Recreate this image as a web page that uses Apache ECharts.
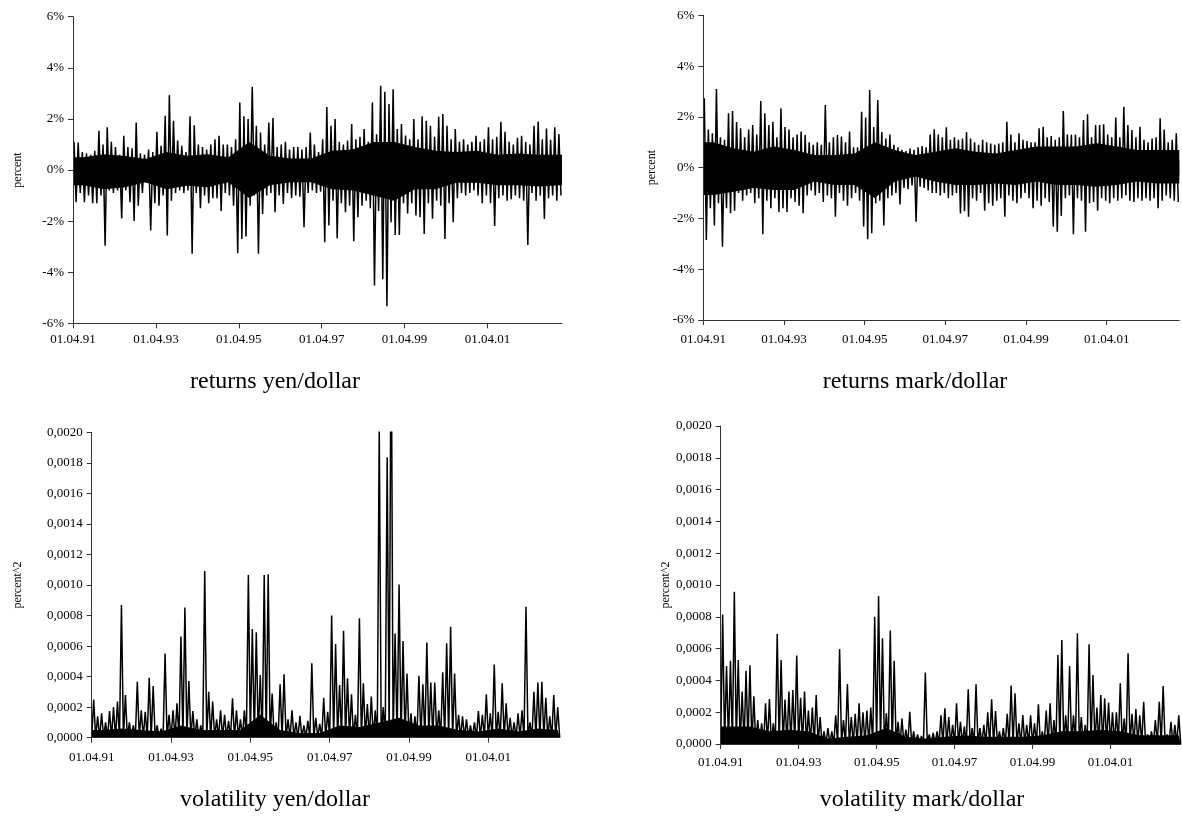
<!DOCTYPE html>
<html>
<head>
<meta charset="utf-8">
<script src="https://cdn.jsdelivr.net/npm/echarts@6/dist/echarts.min.js"></script>
<style>
html,body{margin:0;padding:0;background:#fff;}
#chart{width:1182px;height:825px;}
</style>
</head>
<body>
<div id="chart"></div>
<script>
// time axis: years since 01.04.1991, one bin = 0.1 year, core bins = 0.5 year
const BIN_YEARS = 0.1;
const CORE_YEARS = 0.5;
const SPAN_YEARS = 11.8;
const xTickYears = [0, 2, 4, 6, 8, 10];
const xTickLabels = ['01.04.91', '01.04.93', '01.04.95', '01.04.97', '01.04.99', '01.04.01'];
const titles = ['returns yen/dollar', 'returns mark/dollar', 'volatility yen/dollar', 'volatility mark/dollar'];

// daily returns (percent): highest and lowest value seen in each 0.1-year bin
const yenRetHi = [1.1,1.08,0.7,0.65,0.6,0.75,1.54,1.0,1.67,1.1,0.9,0.6,1.34,0.9,0.85,1.86,0.65,0.6,0.8,0.7,1.5,0.95,2.12,2.93,1.93,1.15,0.95,0.7,2.1,1.75,1.0,0.9,0.8,
 1.0,1.2,1.34,1.0,1.0,0.9,1.2,2.64,2.1,2.0,3.26,1.73,1.47,1.0,1.86,2.03,0.9,1.0,1.1,0.8,0.9,0.9,0.8,0.9,1.47,1.0,0.7,1.2,2.47,1.73,2.0,1.1,1.0,1.15,
 1.8,1.2,1.3,1.6,1.1,2.64,1.4,3.3,3.06,2.58,3.16,1.6,1.8,1.35,1.2,2.0,1.2,2.1,1.93,1.73,1.3,2.08,2.19,1.73,1.2,1.6,1.1,1.2,1.0,1.1,1.34,1.1,1.2,1.67,
 1.2,1.3,1.89,1.5,1.1,1.0,1.26,1.34,1.1,1.0,1.73,1.9,1.2,1.62,1.18,1.67,1.41];
const yenRetLo = [-1.26,-0.9,-1.26,-1.0,-1.3,-1.3,-1.0,-2.96,-0.8,-0.9,-0.8,-1.9,-0.8,-1.26,-2.0,-1.4,-0.9,-0.5,-2.37,-1.3,-1.4,-1.0,-2.56,-1.2,-0.9,-0.8,-0.9,-0.8,-3.28,-0.9,-1.5,-1.0,-1.3,
 -1.1,-1.1,-1.6,-0.9,-1.0,-1.4,-3.26,-2.7,-2.6,-1.4,-1.0,-3.28,-1.72,-1.0,-0.9,-1.65,-1.0,-1.33,-0.9,-1.1,-1.0,-1.05,-2.24,-0.9,-0.8,-0.9,-0.85,-2.83,-2.17,-1.2,-2.67,-1.3,-1.65,-1.4,
 -2.79,-1.85,-1.4,-1.2,-1.5,-4.52,-1.6,-4.28,-5.33,-2.04,-2.54,-2.54,-1.3,-1.7,-1.3,-1.78,-1.85,-2.5,-1.3,-1.91,-1.2,-1.4,-2.7,-1.3,-2.04,-1.1,-0.9,-1.0,-0.9,-0.8,-1.0,-1.3,-1.0,-1.3,
 -2.19,-1.1,-1.0,-1.2,-1.14,-1.0,-1.1,-1.2,-2.93,-0.9,-1.2,-1.0,-1.92,-1.1,-1.0,-1.2,-1.0];
const markRetHi = [2.73,1.5,1.35,3.1,1.2,1.1,2.14,2.23,1.8,1.55,1.2,1.5,1.68,1.3,2.62,2.14,1.68,1.81,1.2,2.34,1.6,1.5,1.2,1.3,1.42,1.29,1.0,0.9,1.0,0.9,2.47,1.0,1.2,1.29,1.23,1.0,1.42,0.8,0.8,
 2.2,1.97,3.06,1.6,2.66,1.4,1.15,1.3,0.9,0.8,0.7,0.65,0.75,0.7,0.8,0.85,0.8,1.3,1.51,1.3,1.2,1.59,1.1,1.2,1.1,1.15,1.4,1.15,1.0,0.9,1.1,1.0,0.95,0.9,0.95,1.0,1.81,1.3,1.0,1.35,
 1.1,1.05,1.0,1.0,1.55,1.61,1.2,1.25,1.1,1.2,2.23,1.3,1.3,1.3,1.2,1.88,2.1,1.2,1.68,1.68,1.71,1.3,1.2,1.97,1.2,2.4,1.68,1.48,1.2,1.61,1.1,1.0,1.15,1.2,1.94,1.5,1.0,1.1,1.35];
const markRetLo = [-2.85,-1.6,-2.28,-1.4,-3.11,-1.6,-1.8,-1.7,-1.0,-1.3,-1.1,-1.0,-1.4,-1.2,-2.62,-1.3,-1.6,-1.2,-1.75,-1.6,-1.75,-1.2,-1.35,-1.5,-1.8,-1.1,-0.9,-1.1,-1.0,-1.35,-1.1,-1.2,-1.93,-1.0,-1.3,-1.5,-1.2,-1.0,-1.3,
 -2.32,-2.82,-2.58,-1.4,-1.3,-2.28,-1.2,-1.1,-1.0,-1.45,-0.8,-0.85,-0.7,-2.13,-0.75,-0.8,-0.9,-1.0,-1.0,-1.1,-1.0,-1.2,-1.1,-1.0,-1.8,-1.72,-1.93,-1.2,-1.3,-1.0,-1.7,-1.4,-1.5,-1.3,-1.2,-1.93,-1.1,-1.3,-1.4,-1.2,
 -1.0,-1.2,-1.6,-1.3,-1.5,-1.2,-1.35,-2.32,-2.52,-1.9,-1.2,-1.1,-2.62,-1.2,-1.3,-2.52,-1.4,-1.35,-1.7,-1.2,-1.3,-1.4,-1.2,-1.3,-1.2,-1.1,-1.3,-1.35,-1.2,-1.3,-1.2,-1.3,-1.2,-1.6,-1.3,-1.1,-1.2,-1.3,-1.35];

// dense core of the returns (percent): edges of the solid black band in each 0.5-year bin
const yenCoreHi = [0.5,0.62,0.55,0.43,0.7,0.56,0.62,0.5,1.1,0.56,0.45,0.45,0.75,0.8,1.1,1.1,0.9,0.75,0.7,0.75,0.6,0.65,0.6,0.6];
const yenCoreLo = [-0.6,-0.75,-0.68,-0.48,-0.75,-0.62,-0.68,-0.48,-1.1,-0.6,-0.48,-0.48,-0.75,-0.8,-1.0,-1.2,-0.75,-0.75,-0.5,-0.5,-0.6,-0.6,-0.65,-0.6];
const markCoreHi = [1.0,0.76,0.63,0.83,0.7,0.5,0.5,0.56,1.0,0.7,0.5,0.63,0.76,0.63,0.56,0.7,0.83,0.83,0.83,0.96,0.83,0.7,0.7,0.7];
const markCoreLo = [-1.08,-0.95,-0.8,-0.88,-0.88,-0.55,-0.68,-0.68,-1.2,-0.55,-0.35,-0.55,-0.68,-0.68,-0.62,-0.68,-0.55,-0.68,-0.68,-0.75,-0.68,-0.55,-0.62,-0.62];

// squared returns (units of 1e-4): highest value in each 0.1-year bin
const yenVolHi = [2.5,1.4,1.6,1.0,1.75,2.0,2.36,8.69,2.8,1.0,0.8,3.67,1.8,1.7,3.93,3.38,0.8,0.6,5.52,1.5,1.8,2.25,6.62,8.52,3.71,1.75,1.2,0.8,10.92,3.0,2.36,1.2,1.8,1.5,1.1,2.58,1.8,1.2,1.8,
 10.65,7.12,6.9,4.1,10.65,10.7,2.9,1.0,3.5,4.15,1.2,1.8,1.0,1.44,0.8,1.1,4.87,1.3,0.9,2.62,1.7,8.0,6.14,3.45,7.0,3.89,2.84,1.5,7.82,3.56,2.2,2.7,1.8,20.4,2.0,18.36,28.4,6.83,10.04,6.33,
 4.2,1.6,1.4,4.06,3.5,6.24,3.62,3.62,1.8,4.28,6.18,7.27,4.2,1.5,1.4,1.2,0.8,1.0,1.75,1.5,2.84,1.6,4.8,1.7,3.56,2.25,1.3,1.0,1.6,1.8,8.58,1.0,3.0,3.62,3.67,2.62,1.4,2.8,2.0];
const markVolHi = [8.15,4.9,5.24,9.58,5.28,3.3,4.6,4.95,3.0,1.5,1.3,2.56,2.83,1.3,6.92,5.28,2.8,3.3,3.4,5.56,2.9,3.3,2.1,2.3,3.08,1.7,0.8,1.0,0.8,1.8,5.97,1.5,3.77,1.7,1.9,2.56,2.0,2.1,
 2.3,8.0,9.3,6.65,1.93,7.13,5.24,1.4,1.6,0.9,2.03,0.8,0.6,0.5,4.49,0.6,0.7,0.8,1.8,2.24,1.7,1.2,2.56,1.4,1.1,3.44,1.0,3.75,1.0,1.2,2.0,2.81,2.07,0.8,1.0,1.9,3.67,3.19,1.3,
 1.82,1.2,1.8,1.3,2.5,0.8,2.1,2.56,1.5,5.6,6.54,1.8,4.9,1.8,6.96,1.7,1.2,6.27,4.34,2.3,3.08,2.87,2.6,2.0,2.0,3.82,1.6,5.7,1.9,2.2,1.8,2.66,0.6,0.8,1.5,2.66,3.65,0.6,1.4,1.2,1.8];
// dense core of squared returns (1e-4): top of the solid black band in each 0.5-year bin
const yenVolCore = [0.5,0.6,0.5,0.4,0.8,0.5,0.5,0.5,1.5,0.5,0.3,0.3,0.8,0.7,1.0,1.3,0.8,0.8,0.5,0.4,0.6,0.4,0.6,0.5];
const markVolCore = [1.1,1.1,0.8,0.9,0.8,0.35,0.45,0.55,1.0,0.45,0.35,0.45,0.55,0.45,0.45,0.45,0.55,0.8,0.8,0.9,0.8,0.55,0.55,0.55];

function retPoints(hi, lo) {
  const out = [];
  hi.forEach((h, i) => {
    out.push([(i + 0.25) * BIN_YEARS, h]);
    out.push([(i + 0.75) * BIN_YEARS, lo[i]]);
  });
  return out;
}
function volPoints(hi) {
  const out = [];
  hi.forEach((h, i) => {
    out.push([i * BIN_YEARS, 0]);
    out.push([(i + 0.5) * BIN_YEARS, h]);
  });
  out.push([hi.length * BIN_YEARS, 0]);
  return out;
}
// core band outline: bin centres, held flat to both ends of the span
function corePoints(arr) {
  const pts = [[0, arr[0]]];
  arr.forEach((v, i) => pts.push([(i + 0.5) * CORE_YEARS, v]));
  pts.push([SPAN_YEARS, arr[arr.length - 1]]);
  return pts;
}

const FONT = '"Liberation Serif","Times New Roman",serif';
const AX = '#333';
const grids = [
  {left: 73, top: 16.7, width: 489, height: 306.6},
  {left: 703.3, top: 15.3, width: 476, height: 304.7},
  {left: 91.7, top: 432.3, width: 468, height: 305.4},
  {left: 720.7, top: 426, width: 460, height: 318}
];
const xLabelMargin = [10, 13, 13, 12];
function xAxis(i) {
  return {
    type: 'value', gridIndex: i, min: 0, max: SPAN_YEARS, interval: 2,
    axisLine: {onZero: false, lineStyle: {color: AX, width: 1}},
    axisTick: {length: 5, lineStyle: {color: AX}, customValues: xTickYears},
    axisLabel: {customValues: xTickYears, color: '#000', fontFamily: FONT, fontSize: 13, margin: xLabelMargin[i],
      formatter: v => xTickLabels[xTickYears.indexOf(v)] || ''},
    splitLine: {show: false}, z: 5
  };
}
function yAxis(i, isVol, name, gap) {
  return {
    type: 'value', gridIndex: i,
    min: isVol ? 0 : -6, max: isVol ? 20 : 6, interval: 2,
    name: name, nameLocation: 'middle', nameGap: gap,
    nameTextStyle: {fontFamily: FONT, fontSize: 12, color: '#000'},
    axisLine: {show: true, lineStyle: {color: AX, width: 1}},
    axisTick: {show: true, length: 5, lineStyle: {color: AX}},
    axisLabel: {color: '#000', fontFamily: FONT, fontSize: 13, margin: 9,
      formatter: isVol ? (v => (v * 1e-4).toFixed(4).replace('.', ',')) : (v => v + '%')},
    splitLine: {show: false}, z: 5
  };
}
function lineSeries(i, data) {
  return {type: 'line', xAxisIndex: i, yAxisIndex: i, data: data, showSymbol: false, symbol: 'none',
    lineStyle: {color: '#000', width: 1.5}, clip: true, animation: false, silent: true, z: 3};
}
// filled core band; the upper and lower halves overlap a little around zero so no seam shows
function coreSeries(i, data, origin) {
  return {type: 'line', xAxisIndex: i, yAxisIndex: i, data: data, showSymbol: false, symbol: 'none',
    lineStyle: {width: 0, color: '#000'}, areaStyle: {color: '#000', opacity: 1, origin: origin},
    clip: true, animation: false, silent: true, z: 2};
}
const titlePos = [[275, 382], [915, 382], [275, 800], [922, 800]];

const chart = echarts.init(document.getElementById('chart'), null, {renderer: 'canvas'});
chart.setOption({
  backgroundColor: '#fff',
  animation: false,
  grid: grids,
  xAxis: [0, 1, 2, 3].map(xAxis),
  yAxis: [yAxis(0, false, 'percent', 49), yAxis(1, false, 'percent', 45),
          yAxis(2, true, 'percent^2', 68), yAxis(3, true, 'percent^2', 42)],
  series: [
    coreSeries(0, corePoints(yenCoreHi), -0.3), coreSeries(0, corePoints(yenCoreLo), 0.3),
    coreSeries(1, corePoints(markCoreHi), -0.3), coreSeries(1, corePoints(markCoreLo), 0.3),
    coreSeries(2, corePoints(yenVolCore), 0), coreSeries(3, corePoints(markVolCore), 0),
    lineSeries(0, retPoints(yenRetHi, yenRetLo)),
    lineSeries(1, retPoints(markRetHi, markRetLo)),
    lineSeries(2, volPoints(yenVolHi)),
    lineSeries(3, volPoints(markVolHi))
  ],
  graphic: titles.map((t, i) => ({
    type: 'text', x: titlePos[i][0], y: titlePos[i][1],
    style: {text: t, fill: '#000', font: '24px ' + FONT, textAlign: 'center', textVerticalAlign: 'middle'}
  }))
});
</script>
</body>
</html>
